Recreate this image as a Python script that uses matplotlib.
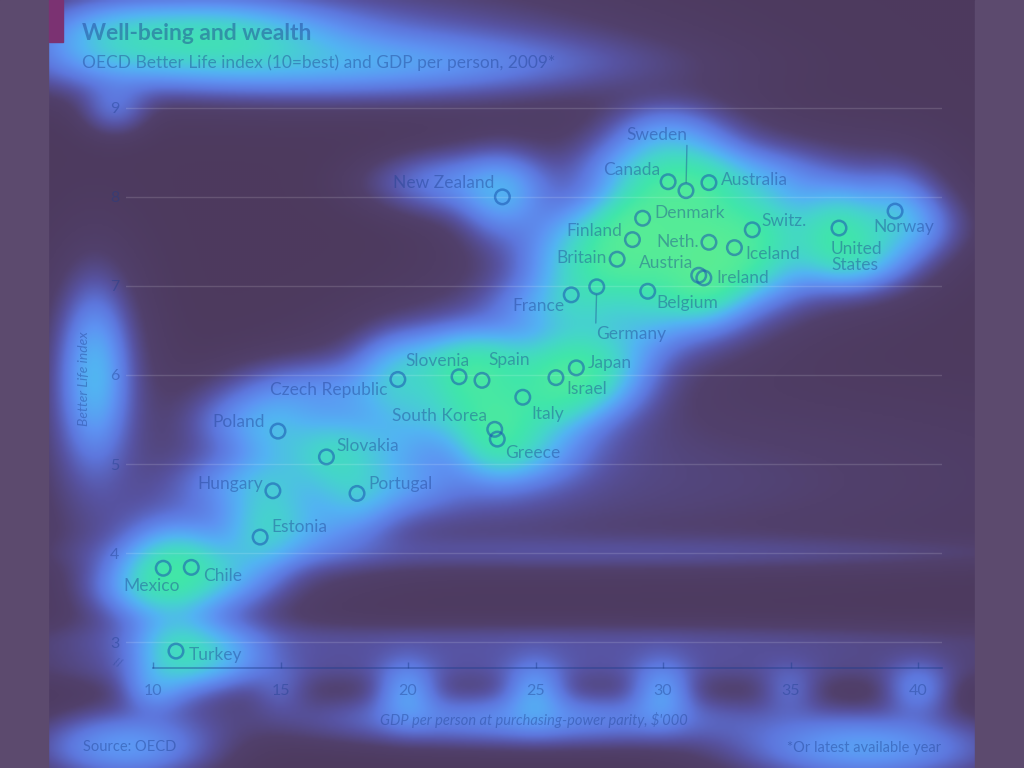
import numpy as np
import matplotlib
matplotlib.use("Agg")
import matplotlib.pyplot as plt
from matplotlib.colors import LinearSegmentedColormap
from matplotlib.patches import Rectangle

# data: GDP per person ($'000) and Better Life index
countries = ["New Zealand", "Canada", "Sweden", "Australia", "Denmark", "Finland",
             "Britain", "Neth.", "Switz.", "Iceland", "Austria", "Ireland",
             "Norway", "United\nStates", "France", "Germany", "Belgium",
             "Czech Republic", "Slovenia", "Spain", "Italy", "Israel", "Japan",
             "South Korea", "Greece", "Poland", "Slovakia", "Hungary", "Portugal",
             "Estonia", "Mexico", "Chile", "Turkey"]
gdp = [23.7, 30.2, 30.9, 31.8, 29.2, 28.8, 28.2, 31.8, 33.5, 32.8, 31.4, 31.6,
       39.1, 36.9, 26.4, 27.4, 29.4, 19.6, 22.0, 22.9, 24.5, 25.8, 26.6,
       23.4, 23.5, 14.9, 16.8, 14.7, 18.0, 14.2, 10.4, 11.5, 10.9]
bli = [8.00, 8.17, 8.07, 8.16, 7.76, 7.52, 7.30, 7.49, 7.63, 7.43, 7.12, 7.09,
       7.84, 7.65, 6.90, 6.99, 6.94, 5.95, 5.98, 5.94, 5.75, 5.97, 6.08,
       5.39, 5.28, 5.37, 5.08, 4.70, 4.67, 4.18, 3.83, 3.84, 2.90]
# how strongly the attention overlay lights up each country
attention = [0.45, 0.45, 0.4, 0.45, 0.6, 0.5, 0.45, 0.5, 0.45, 0.45, 0.55, 0.45,
             0.4, 0.85, 0.35, 0.35, 0.35, 0.4, 0.5, 0.5, 0.35, 0.55, 0.55,
             0.45, 0.45, 0.35, 0.5, 0.35, 0.4, 0.45, 0.65, 0.5, 0.65]

x_ticks = [10, 15, 20, 25, 30, 35, 40]
y_ticks = [3, 4, 5, 6, 7, 8, 9]

# label placement: offset in pixels from the marker (dx, dy up), alignment
label_pos = {
    "New Zealand": (-8, 14, "right"), "Canada": (-8, 12, "right"),
    "Sweden": (1, 56, "right"), "Australia": (12, 3, "left"),
    "Denmark": (12, 5, "left"), "Finland": (-10, 9, "right"),
    "Britain": (-10, 1, "right"), "Neth.": (-10, 0, "right"),
    "Switz.": (9, 9, "left"), "Iceland": (11, -6, "left"),
    "Austria": (-6, 12, "right"), "Ireland": (13, 0, "left"),
    "Norway": (9, -16, "center"), "United\nStates": (-8, -29, "left"),
    "France": (-7, -11, "right"), "Germany": (-1, -47, "left"),
    "Belgium": (9, -12, "left"), "Czech Republic": (-10, -11, "right"),
    "Slovenia": (-22, 16, "center"), "Spain": (6, 20, "left"),
    "Italy": (9, -17, "left"), "Israel": (10, -11, "left"),
    "Japan": (11, 5, "left"), "South Korea": (-8, 13, "right"),
    "Greece": (8, -14, "left"), "Poland": (-13, 9, "right"),
    "Slovakia": (10, 11, "left"), "Hungary": (-10, 7, "right"),
    "Portugal": (11, 9, "left"), "Estonia": (11, 10, "left"),
    "Mexico": (-12, -18, "center"), "Chile": (12, -9, "left"),
    "Turkey": (13, -4, "left"),
}

# extra hot spots on the page text (x, y from top, spread x, spread y, weight)
text_spots = [
    (200, 36, 80, 22, 1.0), (300, 40, 200, 40, 0.25), (110, 40, 40, 25, 0.3),
    (330, 64, 170, 20, 0.5), (115, 108, 22, 18, 0.25),
    (95, 375, 20, 50, 0.6), (95, 390, 40, 90, 0.2),
    (153, 690, 20, 16, 0.3), (280, 690, 20, 16, 0.15), (407, 692, 20, 20, 0.45),
    (535, 692, 20, 20, 0.45), (662, 692, 20, 20, 0.45), (790, 690, 20, 16, 0.2),
    (918, 690, 22, 18, 0.35),
    (530, 719, 150, 18, 0.45),
    (125, 747, 55, 22, 0.55), (865, 748, 80, 22, 0.6),
    (620, 553, 330, 12, 0.12), (540, 641, 400, 14, 0.16),
    (540, 668, 400, 14, 0.15), (600, 480, 300, 60, 0.12),
]

plt.rcParams["font.family"] = ["Lato", "DejaVu Sans"]
TXT = "#1c3d8c"
W, H = 1024, 768

fig = plt.figure(figsize=(10.24, 7.68), dpi=100)
fig.patch.set_facecolor("#4d3a5e")

heat_ax = fig.add_axes([0, 0, 1, 1], zorder=0)
heat_ax.axis("off")

ax = fig.add_axes([126 / W, 1 - 668 / H, 816 / W, 578 / H], zorder=2)
ax.patch.set_alpha(0)
ax.set_xlim(8.94, 40.94)
ax.set_ylim(2.71, 9.2)

for s in ["top", "right", "left"]:
    ax.spines[s].set_visible(False)
ax.spines["bottom"].set_bounds(10, 40.94)
ax.spines["bottom"].set_color(TXT)
ax.spines["bottom"].set_alpha(0.45)
ax.spines["bottom"].set_linewidth(1.2)

ax.set_xticks(x_ticks)
ax.set_yticks(y_ticks)
ax.tick_params(axis="x", direction="in", length=4, width=1, color=(0.11, 0.24, 0.55, 0.45),
               pad=11.5, labelsize=11.5, labelcolor=(0.11, 0.24, 0.55, 0.4))
ax.tick_params(axis="y", length=0, pad=5, labelsize=11.5, labelcolor=(0.11, 0.24, 0.55, 0.4))
ax.grid(axis="y", color="white", alpha=0.14, linewidth=1)
ax.set_axisbelow(True)

ax.set_xlabel("GDP per person at purchasing-power parity, $'000", fontsize=10.5,
              style="italic", color=TXT, alpha=0.4, labelpad=10)
ax.set_ylabel("Better Life index", fontsize=10, style="italic", color=TXT, alpha=0.4)
ax.yaxis.set_label_coords(-0.044, 0.5)

ax.scatter(gdp, bli, s=110, facecolor="none", edgecolor="#1a55b0", linewidth=1.8,
           alpha=0.55, zorder=3)

pix = ax.transData.transform(np.column_stack([gdp, bli]))

for name, (px, py) in zip(countries, pix):
    dx, dy, ha = label_pos[name]
    props = None
    if name == "Sweden":
        props = dict(arrowstyle="-", color=TXT, alpha=0.4, lw=1, shrinkA=0, shrinkB=6,
                     relpos=(1, 0))
    elif name == "Germany":
        props = dict(arrowstyle="-", color=TXT, alpha=0.4, lw=1, shrinkA=0, shrinkB=6,
                     relpos=(0, 1))
    ax.annotate(name, (px, py), xycoords="figure pixels", xytext=(dx, dy),
                textcoords="offset pixels", ha=ha, va="center", fontsize=12.5,
                color=TXT, alpha=0.42, linespacing=0.95, arrowprops=props, zorder=4)

# y-axis break mark
ax.text(8.6, 2.76, "//", fontsize=8, color=TXT, alpha=0.4, ha="center", va="center",
        rotation=-20)

# attention heat overlay built from the marks and text
xs = np.arange(0, W, 2) + 1.0
ys = np.arange(0, H, 2) + 1.0
gx, gy = np.meshgrid(xs, ys)
field = np.zeros_like(gx)


def add_spot(x0, y0, sx, sy, w):
    global field
    field += w * np.exp(-((gx - x0) ** 2 / (2 * sx ** 2) + (gy - y0) ** 2 / (2 * sy ** 2)))


for name, (px, py), w in zip(countries, pix, attention):
    add_spot(px, py, 26, 26, w)
    add_spot(px, py, 60, 50, w * 0.18)
    dx, dy, ha = label_pos[name]
    lw = max(len(l) for l in name.split("\n")) * 7.5
    cx = px + dx + {"left": lw / 2, "right": -lw / 2, "center": 0}[ha]
    add_spot(cx, py + dy, lw / 2 + 12, 20, w * 0.8)

for x0, yt, sx, sy, w in text_spots:
    add_spot(x0, H - yt, sx, sy, w)

level = 1 - np.exp(-1.5 * field)
heat_cmap = LinearSegmentedColormap.from_list("heat", [
    (0.0, "#4d3a5e"), (0.12, "#51406c"), (0.25, "#5753a2"), (0.4, "#5d76dc"),
    (0.55, "#5e92f2"), (0.7, "#52b4f2"), (0.82, "#45d4cc"), (0.92, "#40e6aa"),
    (1.0, "#5eee90")])
heat_ax.imshow(level, origin="lower", extent=(0, W, 0, H), cmap=heat_cmap,
               vmin=0, vmax=1, aspect="auto", interpolation="bilinear")
heat_ax.set_xlim(0, W)
heat_ax.set_ylim(0, H)

# page frame and the red tag
fig.add_artist(Rectangle((0, 0), 48 / W, 1, transform=fig.transFigure,
                         color="#5c4a6e", zorder=1))
fig.add_artist(Rectangle((975 / W, 0), 49 / W, 1, transform=fig.transFigure,
                         color="#5c4a6e", zorder=1))
fig.add_artist(Rectangle((49 / W, 1 - 42 / H), 14 / W, 42 / H, transform=fig.transFigure,
                         color="#7b3272", zorder=1))

fig.text(82 / W, 1 - 34 / H, "Well-being and wealth", fontsize=16.5, weight="bold",
         color=TXT, alpha=0.45, va="center", zorder=5)
fig.text(82 / W, 1 - 63 / H, "OECD Better Life index (10=best) and GDP per person, 2009*",
         fontsize=12.5, color=TXT, alpha=0.42, va="center", zorder=5)
fig.text(83 / W, 1 - 747 / H, "Source: OECD", fontsize=10.5, color=TXT, alpha=0.42,
         va="center", zorder=5)
fig.text(941 / W, 1 - 748 / H, "*Or latest available year", fontsize=10.5, color=TXT,
         alpha=0.42, va="center", ha="right", zorder=5)

fig.savefig("out.png", dpi=100, facecolor=fig.get_facecolor())
